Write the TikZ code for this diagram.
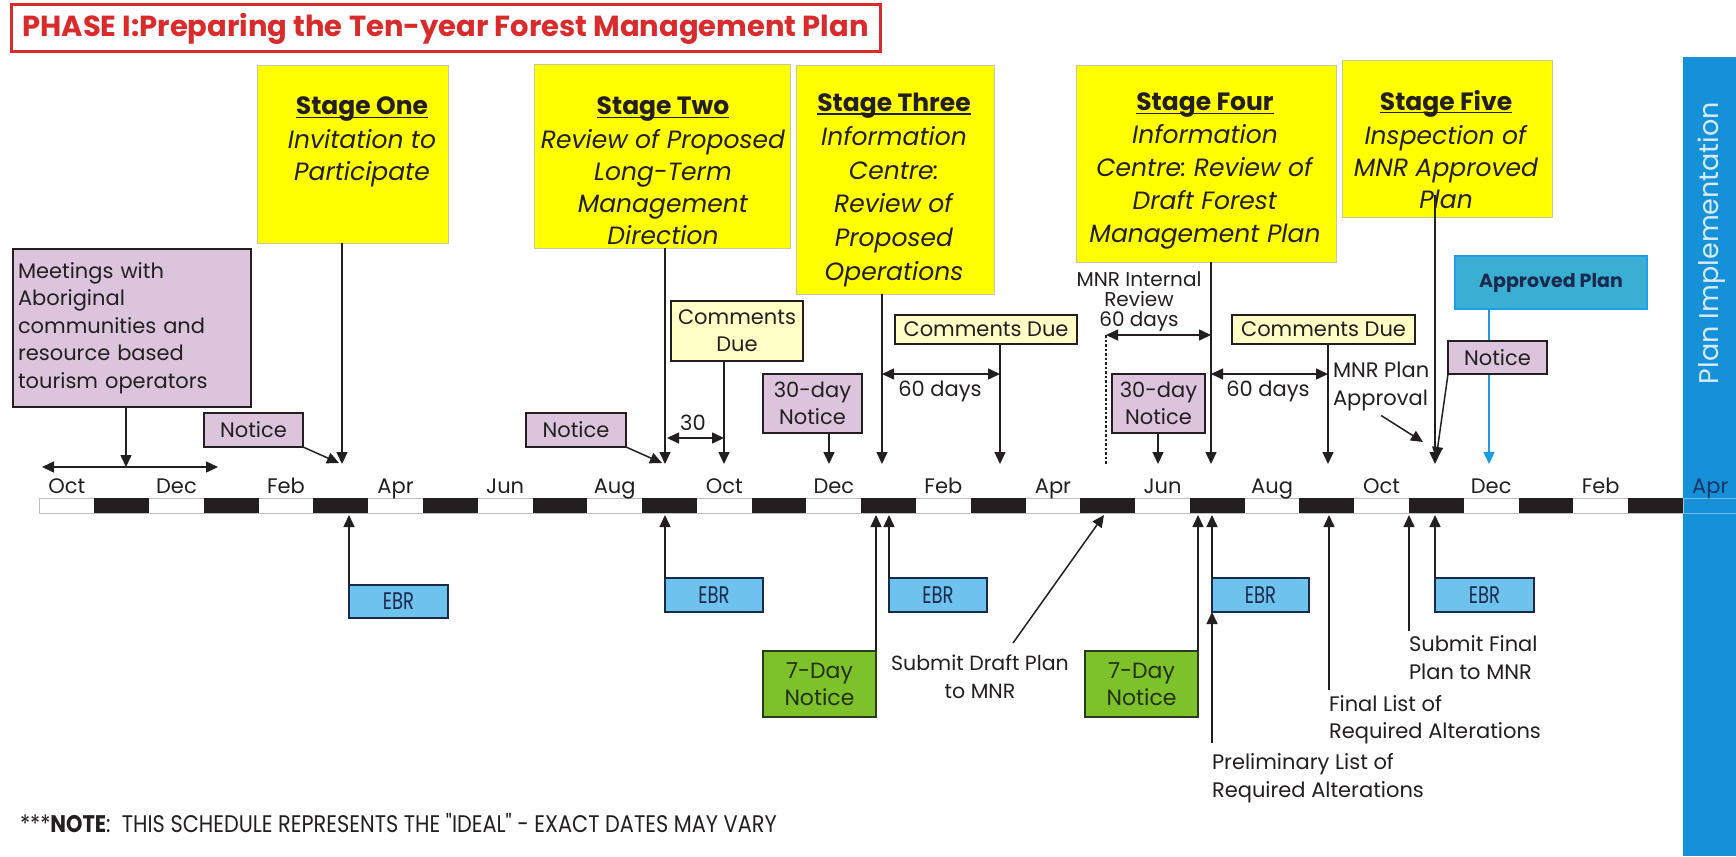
\documentclass[tikz,border=0pt]{standalone}
\usepackage{fontspec}
\setmainfont{Poppins}
\newfontfamily\condfont[FakeStretch=0.87]{Poppins}
\newfontfamily\narrowfont[FakeStretch=0.75]{Poppins}
\usetikzlibrary{arrows.meta,calc}

\definecolor{ink}{HTML}{231F20}
\definecolor{titlered}{HTML}{D92B2B}
\definecolor{stageyellow}{HTML}{FFFF00}
\definecolor{stageedge}{HTML}{C8C8A0}
\definecolor{mauve}{HTML}{DCC5DC}
\definecolor{paleyellow}{HTML}{FFFFC6}
\definecolor{ebrblue}{HTML}{6EC2EE}
\definecolor{navy}{HTML}{1B2A4C}
\definecolor{daygreen}{HTML}{7DC22B}
\definecolor{dayedge}{HTML}{2C3A1C}
\definecolor{dayink}{HTML}{25300F}
\definecolor{apfill}{HTML}{3AAFD3}
\definecolor{apedge}{HTML}{1E9FE6}
\definecolor{band}{HTML}{1591DA}
\definecolor{bandtext}{HTML}{D6EBF8}
\definecolor{aprtext}{HTML}{163466}
\definecolor{bluearrow}{HTML}{1A9CE6}
\definecolor{barline}{HTML}{BEBEBE}

% underline sitting just under the baseline
\newcommand\stul[1]{\setbox0=\hbox{#1}\rlap{\rule[-3pt]{\wd0}{1.3pt}}\box0}

\begin{document}
\frenchspacing
\begin{tikzpicture}[x=1pt,y=-1pt,
  every node/.style={inner sep=0pt, outer sep=0pt, text=ink},
  sz/.style 2 args={minimum width=#1, minimum height=#2},
  stagebox/.style={fill=stageyellow, draw=stageedge, line width=0.8pt},
  stagetext/.style={align=center, anchor=north, font=\fontsize{25}{32}\selectfont},
  mauvebox/.style={fill=mauve, draw=ink, line width=1.5pt, align=center, font=\fontsize{21}{27}\selectfont},
  duebox/.style={fill=paleyellow, draw=ink, line width=1.5pt, align=center, font=\fontsize{21}{27}\selectfont},
  ebrbox/.style={fill=ebrblue, draw=navy, line width=1.5pt, text=navy, font=\narrowfont\fontsize{24}{26}\selectfont},
  daybox/.style={fill=daygreen, draw=dayedge, line width=1.5pt, align=center, text=dayink, font=\fontsize{22}{27}\selectfont},
  lbl/.style={align=left, font=\fontsize{21}{27.5}\selectfont},
  monthlbl/.style={anchor=base, font=\fontsize{21}{24}\selectfont},
  arr/.style={draw=ink, line width=1.5pt, -{Triangle[length=12pt,width=11pt]}},
  darr/.style={draw=ink, line width=1.5pt, {Triangle[length=12pt,width=11pt]}-{Triangle[length=12pt,width=11pt]}},
]
\useasboundingbox (0,0) rectangle (1736,856);
\fill[white] (0,0) rectangle (1736,856);

% ---------- title ----------
\node[draw=titlered, line width=3pt, sz={869}{47}, text=titlered,
      font=\bfseries\fontsize{29}{32}\selectfont] (title) at (445.5,28.5)
      {PHASE I:Preparing the Ten-year Forest Management Plan};

% ---------- implementation band ----------
\fill[band] (1683,57) rectangle (1736,856);
\node[rotate=90, text=bandtext, font=\fontsize{27}{30}\selectfont] (impl) at (1712,243) {Plan Implementation};

% ---------- time bar ----------
\fill[white] (39.5,498) rectangle (1683,513);
\draw[barline, line width=1pt] (39.5,498) rectangle (1683,513);
\foreach \i in {1,3,...,29}
  \fill[ink] ({39.5+\i*54.78},498) rectangle ({39.5+(\i+1)*54.78},513);
\draw[band!60!white, line width=0.8pt] (1683,498) -- (1736,498) (1683,513) -- (1736,513);
\foreach \name [count=\k from 0] in {Oct,Dec,Feb,Apr,Jun,Aug,Oct,Dec,Feb,Apr,Jun,Aug,Oct,Dec,Feb}
  \node[monthlbl] (mon\k) at ({39.5+(2*\k+0.5)*54.78},493) {\name};
\node[monthlbl, text=aprtext] (mon15) at ({39.5+30.5*54.78},493) {Apr};

% ---------- stage boxes ----------
\node[stagebox, sz={191}{178}] (s1) at (352.5,154) {};
\node[stagebox, sz={256}{184}] (s2) at (662,156) {};
\node[stagebox, sz={198}{229}] (s3) at (895,179.5) {};
\node[stagebox, sz={260}{197}] (s4) at (1206,163.5) {};
\node[stagebox, sz={210}{157}] (s5) at (1447,138.5) {};

\node[stagetext] (s1t) at (362,97)
  {\stul{\bfseries Stage One}\\[2pt] \textit{Invitation to}\\ \textit{Participate}};
\node[stagetext] (s2t) at (663,97)
  {\stul{\bfseries Stage Two}\\[2pt] \textit{Review of Proposed}\\ \textit{Long-Term}\\ \textit{Management}\\ \textit{Direction}};
\node[stagetext, font=\fontsize{25}{33.8}\selectfont] (s3t) at (894,93)
  {\stul{\bfseries Stage Three}\\ \textit{Information}\\ \textit{Centre:}\\ \textit{Review of}\\ \textit{Proposed}\\ \textit{Operations}};
\node[stagetext, font=\fontsize{25}{33}\selectfont] (s4t) at (1205,93)
  {\stul{\bfseries Stage Four}\\ \textit{Information}\\ \textit{Centre: Review of}\\ \textit{Draft Forest}\\ \textit{Management Plan}};
\node[stagetext] (s5t) at (1446,90)
  {\stul{\bfseries Stage Five}\\[2pt] \textit{Inspection of}\\ \textit{MNR Approved}\\ \textit{Plan}};

% ---------- upper boxes ----------
\node[mauvebox, sz={238}{158}, text width=228, align=left, font=\fontsize{21}{27.5}\selectfont] (meet) at (132,328)
  {Meetings with\\ Aboriginal\\ communities and\\ resource based\\ tourism operators};
\node[mauvebox, sz={99}{34}] (n1) at (253.5,430) {Notice};
\node[mauvebox, sz={100}{34}] (n2) at (576,430) {Notice};
\node[duebox, sz={132}{60}] (cd1) at (737,331) {Comments\\ Due};
\node[mauvebox, sz={99}{59}] (td1) at (812.5,403.5) {30-day\\ Notice};
\node[duebox, sz={182}{29}] (cd2) at (986,329.5) {Comments Due};
\node[mauvebox, sz={93}{59}] (td2) at (1158.5,403.5) {30-day\\ Notice};
\node[duebox, sz={183}{29}] (cd3) at (1323.5,329.5) {Comments Due};
\node[fill=apfill, draw=apedge, line width=2pt, sz={192}{53}, text=navy, font=\bfseries\fontsize{19}{22}\selectfont] (appr) at (1551,282.5) {Approved Plan};

% ---------- lower boxes ----------
\node[ebrbox, sz={99}{33}] (e1) at (398.5,601.5) {EBR};
\node[ebrbox, sz={98}{34}] (e2) at (714,595) {EBR};
\node[ebrbox, sz={98}{34}] (e3) at (938,595) {EBR};
\node[ebrbox, sz={97}{34}] (e4) at (1260.5,595) {EBR};
\node[ebrbox, sz={99}{34}] (e5) at (1484.5,595) {EBR};
\node[daybox, sz={113}{66}] (d1) at (819.5,684) {7-Day\\ Notice};
\node[daybox, sz={113}{66}] (d2) at (1141.5,684) {7-Day\\ Notice};

% ---------- free labels ----------
\node[lbl] (l30) at (693,423) {30};
\node[lbl] (l60a) at (940,391) {60 days};
\node[lbl] (l60b) at (1268,391) {60 days};
\node[align=center, font=\fontsize{20}{20}\selectfont] (mnrint) at (1139,302) {MNR Internal\\ Review\\ 60 days};
\node[lbl, anchor=north west] (mnrapp) at (1333,362) {MNR Plan\\ Approval};
\node[lbl, align=center, anchor=north, font=\fontsize{20.5}{27.5}\selectfont] (sdraft) at (980,655) {Submit Draft Plan\\ to MNR};
\node[lbl, anchor=north west, font=\fontsize{21}{28.5}\selectfont] (prelim) at (1212,753) {Preliminary List of\\ Required Alterations};
\node[lbl, anchor=north west] (finl) at (1329,695) {Final List of\\ Required Alterations};
\node[lbl, anchor=north west] (subf) at (1409,636) {Submit Final\\ Plan to MNR};
\node[anchor=base west, font=\condfont\fontsize{24}{26}\selectfont] (note) at (20,832)
  {***\textbf{NOTE}:\ \ THIS SCHEDULE REPRESENTS THE "IDEAL" - EXACT DATES MAY VARY};

% ---------- arrow end points on the time line ----------
\coordinate (spanL) at (42,467);   \coordinate (spanR) at (218,467);
\coordinate (spanM) at (126,467);
\coordinate (tS1) at (342,464);    \coordinate (tN1) at (339,463);
\coordinate (tS2) at (665,464);    \coordinate (tN2) at (662,463);
\coordinate (tC1) at (724,464);
\coordinate (thL) at (667,438);    \coordinate (thR) at (724,438);
\coordinate (tT1) at (829,464);
\coordinate (tS3) at (882,464);
\coordinate (sxL) at (882,374);    \coordinate (sxR) at (1000,374);
\coordinate (tC2) at (1000,464);
\coordinate (rvL) at (1106,335);   \coordinate (rvR) at (1211,335);
\coordinate (rvB) at (1106,465);
\coordinate (tT2) at (1158,464);
\coordinate (tS4) at (1211,464);
\coordinate (sx2L) at (1211,374);  \coordinate (sx2R) at (1328,374);
\coordinate (tC3) at (1328,464);
\coordinate (tApv) at (1423,442);
\coordinate (tS5) at (1435,464);
\coordinate (tN3) at (1436,459);
\coordinate (tAp) at (1489,464);
\coordinate (uE1) at (349,515);
\coordinate (uE2) at (665,515);
\coordinate (uD1) at (876,515);
\coordinate (uE3) at (889,515);
\coordinate (uSD) at (1104,515);
\coordinate (uD2) at (1198,515);
\coordinate (uE4) at (1212,515);
\coordinate (uFin) at (1329,515);
\coordinate (uSub) at (1409,515);
\coordinate (uE5) at (1435,515);

% ---------- connectors above the bar ----------
\draw[arr] (meet.south -| spanM) -- (spanM);
\draw[darr] (spanL) -- (spanR);
\draw[arr] (s1.south -| tS1) -- (tS1);
\draw[arr] (n1.south east) -- (tN1);
\draw[arr] (s2.south -| tS2) -- (tS2);
\draw[arr] (n2.south east) -- (tN2);
\draw[arr] (cd1.south -| tC1) -- (tC1);
\draw[darr] (thL) -- (thR);
\draw[arr] (td1.south -| tT1) -- (tT1);
\draw[arr] (s3.south -| tS3) -- (tS3);
\draw[darr] (sxL) -- (sxR);
\draw[arr] (cd2.south -| tC2) -- (tC2);
\draw[ink, line width=1.5pt, dash pattern=on 2.5pt off 2pt] (rvL) -- (rvB);
\draw[darr] (rvL) -- (rvR);
\draw[arr] (td2.south -| tT2) -- (tT2);
\draw[arr] (s4.south -| tS4) -- (tS4);
\draw[darr] (sx2L) -- (sx2R);
\draw[arr] (cd3.south -| tC3) -- (tC3);
\draw[arr] ([yshift=-5pt]mnrapp.south) -- (tApv);
\draw[arr] ([yshift=22pt]s5.south -| tS5) -- (tS5);
\draw[line width=1.5pt, bluearrow, -{Triangle[length=12pt,width=11pt]}] (appr.south -| tAp) -- (tAp);
\node[mauvebox, sz={99}{33}] (n3) at (1497.5,357.5) {Notice};
\draw[arr] (n3.south west) -- (tN3);

% ---------- connectors below the bar ----------
\draw[arr] (e1.north west) -- (uE1);
\draw[arr] (e2.north west) -- (uE2);
\draw[arr] (d1.north east) -- (uD1);
\draw[arr] (e3.north west) -- (uE3);
\draw[arr] ([xshift=33pt,yshift=12pt]sdraft.north) -- (uSD);
\draw[arr] (d2.north east) -- (uD2);
\draw[arr] (e4.north west) -- (uE4);
\draw[arr] ([yshift=10pt]prelim.north west) -- (e4.south west);
\draw[arr] ([yshift=5pt]finl.north west) -- (uFin);
\draw[arr] ([yshift=5pt]subf.north west) -- (uSub);
\draw[arr] (e5.north west) -- (uE5);
\end{tikzpicture}
\end{document}
